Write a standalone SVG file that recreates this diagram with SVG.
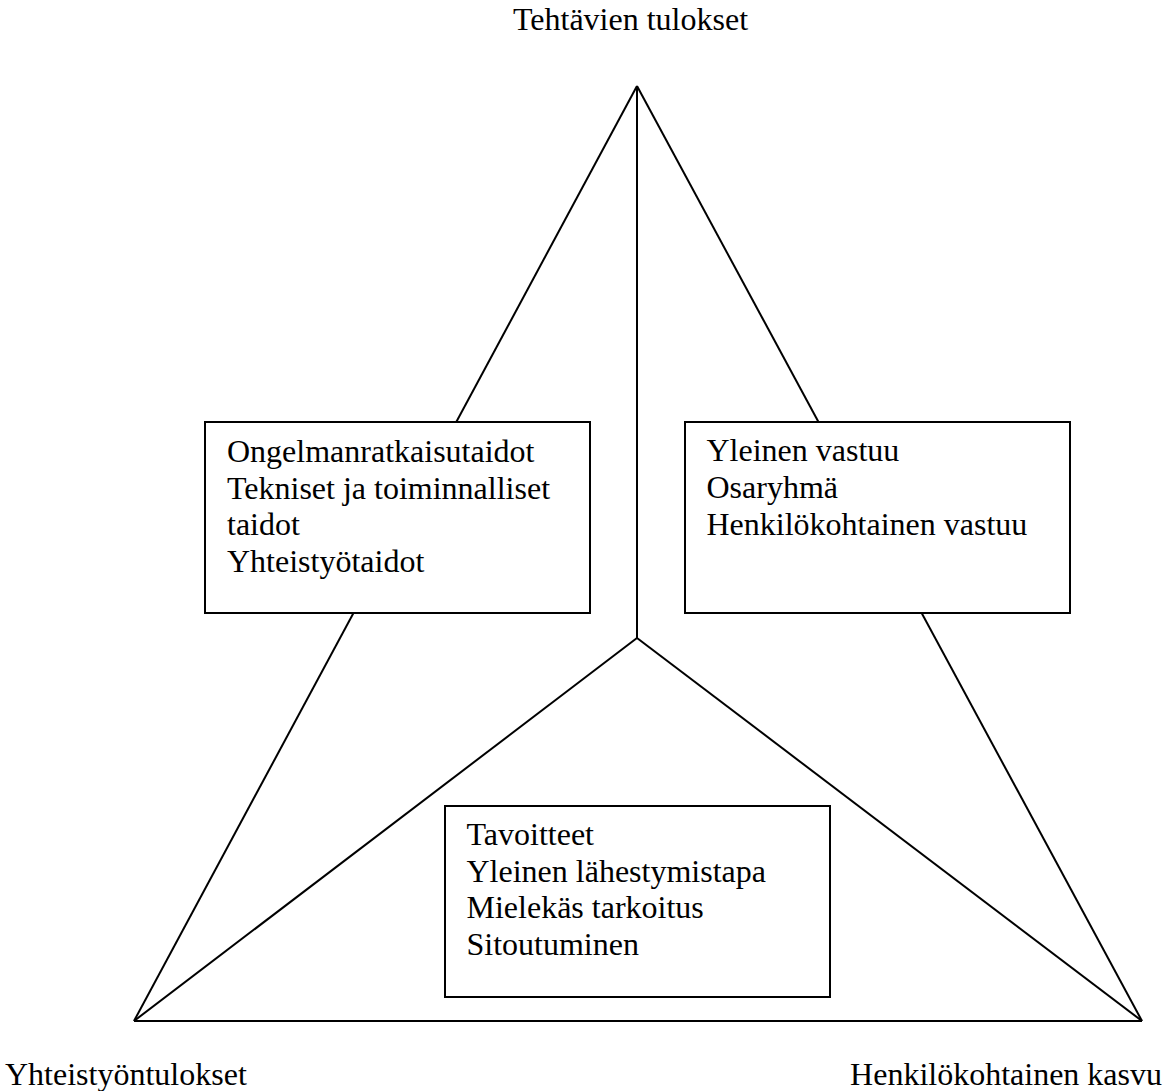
<svg xmlns="http://www.w3.org/2000/svg" width="1167" height="1091" viewBox="0 0 1167 1091">
<style>
.ln{stroke:#000;stroke-width:2;fill:none}
.bx{stroke:#000;stroke-width:2;fill:#fff}
text{font-family:"Liberation Serif","Times New Roman",serif;font-size:32px;fill:#000}
</style>
<rect width="1167" height="1091" fill="#fff"/>
<g id="connectors">
<line class="ln" x1="637" y1="86" x2="134" y2="1021"/>
<line class="ln" x1="637" y1="86" x2="1142" y2="1021"/>
<line class="ln" x1="134" y1="1021" x2="1142" y2="1021"/>
<line class="ln" x1="637" y1="86" x2="637" y2="638"/>
<line class="ln" x1="637" y1="638" x2="134" y2="1021"/>
<line class="ln" x1="637" y1="638" x2="1142" y2="1021"/>
</g>
<g id="label-top"><text x="513" y="30">Tehtävien tulokset</text></g>
<g id="label-left"><text x="5" y="1085">Yhteistyöntulokset</text></g>
<g id="label-right"><text x="1162" y="1085" text-anchor="end">Henkilökohtainen kasvu</text></g>
<g id="box-left">
<rect class="bx" x="205" y="422" width="385" height="191"/>
<text x="227" y="462">Ongelmanratkaisutaidot</text>
<text x="227" y="498.5">Tekniset ja toiminnalliset</text>
<text x="227" y="535">taidot</text>
<text x="227" y="571.5">Yhteistyötaidot</text>
</g>
<g id="box-right">
<rect class="bx" x="685" y="422" width="385" height="191"/>
<text x="706.5" y="461">Yleinen vastuu</text>
<text x="706.5" y="497.5">Osaryhmä</text>
<text x="706.5" y="535">Henkilökohtainen vastuu</text>
</g>
<g id="box-bottom">
<rect class="bx" x="445" y="806" width="385" height="191"/>
<text x="466.5" y="845">Tavoitteet</text>
<text x="466.5" y="881.5">Yleinen lähestymistapa</text>
<text x="466.5" y="918">Mielekäs tarkoitus</text>
<text x="466.5" y="955">Sitoutuminen</text>
</g>
</svg>
